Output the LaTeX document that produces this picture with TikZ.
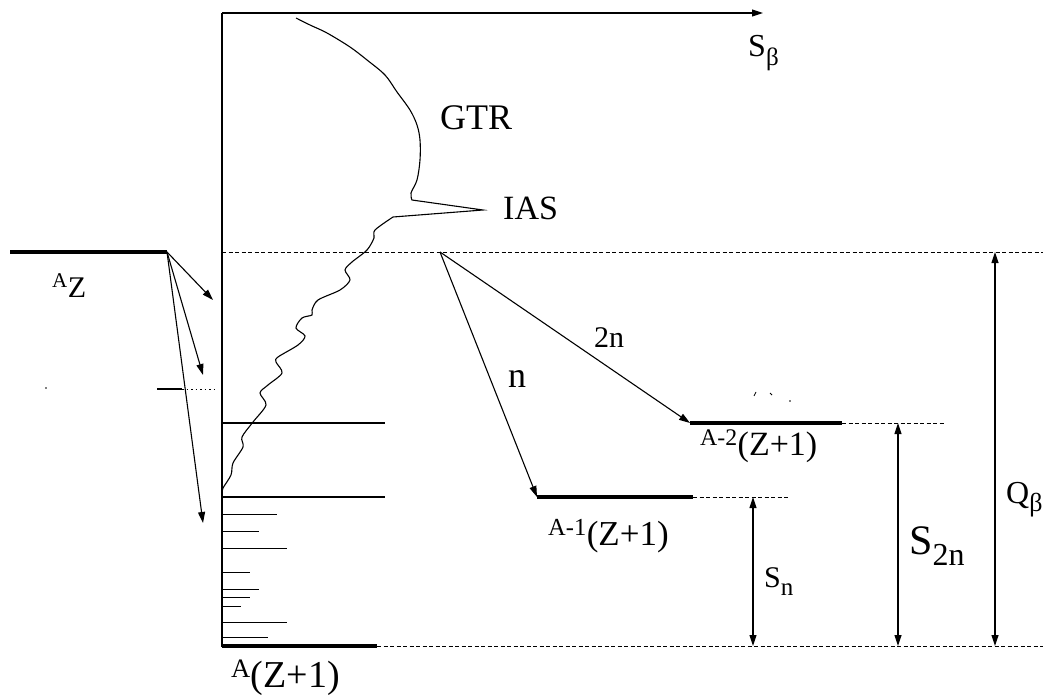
\documentclass[tikz,border=0pt]{standalone}
\usepackage{fontspec}
\setmainfont{Liberation Serif}
\usetikzlibrary{arrows.meta}
\newcommand\lowsub[2]{\raisebox{-0.28em}{\fontsize{#1}{#1}\selectfont #2}}
\tikzset{
  thinln/.style={line width=1.1pt},
  levelln/.style={line width=3.2pt},
  dashln/.style={line width=0.9pt, dash pattern=on 4pt off 2.5pt},
  arr/.style={thinln, -{Triangle[length=11pt,width=7pt]}},
  darr/.style={thinln, {Triangle[length=11pt,width=7pt]}-{Triangle[length=11pt,width=7pt]}},
  lbl/.style={inner sep=0pt, anchor=base west},
  fs/.style={font=\fontsize{#1}{#1}\selectfont}
}
\begin{document}
\begin{tikzpicture}[x=1pt,y=-1pt]
\useasboundingbox (0,0) rectangle (1047,698);

% named points
\coordinate (origin) at (222,647);
\coordinate (axtop) at (222,13);
\coordinate (axtip) at (763,13);
\coordinate (azL) at (10,252);
\coordinate (azR) at (167,252);
\coordinate (a1) at (213,300);
\coordinate (a2) at (203,375);
\coordinate (a3) at (203,523);
\coordinate (ns) at (440,252);
\coordinate (lv1L) at (537,497);
\coordinate (lv1R) at (693,497);
\coordinate (lv1D) at (790,497);
\coordinate (lv2L) at (690,423);
\coordinate (lv2R) at (842,423);
\coordinate (lv2D) at (945,423);
\coordinate (qL) at (222,252);
\coordinate (qR) at (1043,252);
\coordinate (gsR) at (377,646);
\coordinate (gsD) at (1043,646);

% axes
\draw[line width=1.4pt] (origin) -- (axtop);
\draw[arr] (axtop) -- (axtip);

% A Z level and gamma arrows
\draw[levelln] (azL) -- (azR);
\draw[arr] (azR) -- (a1);
\draw[arr] (azR) -- (a2);
\draw[arr] (azR) -- (a3);
\draw[thinln] (157,389) -- (182,389);
\draw[line width=0.8pt, dash pattern=on 1.5pt off 3pt] (182,389) -- (214,389);
\fill (46,388) circle (0.9pt);

% Q-value reference lines
\draw[dashln] (qL) -- (qR);
\draw[levelln] (222,646) -- (gsR);
\draw[dashln] (gsR) -- (gsD);

% levels in the daughter
\draw[thinln] (222,423) -- (385,423);
\draw[thinln] (222,497) -- (385,497);
\foreach \yy/\xx in {514/277, 531/259, 548/287, 572/250, 589/259, 597/250, 606/241, 622/287, 637/268}
  \draw[line width=1pt] (222,\yy) -- (\xx,\yy);

% strength function curve (GTR + IAS)
\draw[line width=1.1pt] plot[smooth, tension=0.55] coordinates {
  (296,18) (310,25) (327,33) (350,47) (367,60) (385,75) (397,92) (410,110)
  (417,125) (420,140) (420,160) (417,180) (411,193) (412,200)}
  -- (483,210) -- (393,217)
  plot[smooth, tension=0.5] coordinates {
  (393,217) (375,230) (374,238) (367,250) (352,262) (345,270) (350,280)
  (340,290) (318,300) (312,310) (312,315) (302,318) (296,328) (305,336)
  (298,345) (278,357) (276,362) (282,373) (268,385) (260,393) (266,405)
  (253,422) (242,437) (243,447) (233,463) (231,475) (223,488) (222,493)};

% neutron emission
\draw[arr] (ns) -- (lv1L);
\draw[arr] (ns) -- (lv2L);
\draw[levelln] (lv1L) -- (lv1R);
\draw[dashln] (lv1R) -- (lv1D);
\draw[levelln] (lv2L) -- (lv2R);
\draw[dashln] (lv2R) -- (lv2D);
\draw[line width=0.8pt] (754,396) -- (756,392);
\draw[line width=0.8pt] (770,393) -- (772,395);
\fill (790,401) circle (0.8pt);

% separation energies
\coordinate (snT) at (753,497);  \coordinate (snB) at (753,646);
\coordinate (s2T) at (898,423);  \coordinate (s2B) at (898,646);
\coordinate (qT) at (995,252);   \coordinate (qB) at (995,646);
\draw[darr] (snT) -- (snB);
\draw[darr] (s2T) -- (s2B);
\draw[darr] (qT) -- (qB);

% labels
\node[lbl, fs=32] (lSb) at (748,57) {S\lowsub{25}{β}};
\node[lbl, fs=36] (lGTR) at (440,130) {GTR};
\node[lbl, fs=34] (lIAS) at (503,219) {IAS};
\node[lbl, fs=30] (lAZ) at (52,297) {\textsuperscript{A}Z};
\node[lbl, fs=38] (lAZ1) at (231,687) {\textsuperscript{A}(Z+1)};
\node[lbl, fs=34] (lA2) at (700,455) {\textsuperscript{A-2}(Z+1)};
\node[lbl, fs=35] (lA1) at (548,545) {\textsuperscript{A-1}(Z+1)};
\node[lbl, fs=30] (l2n) at (594,347) {2n};
\node[lbl, fs=36] (ln) at (508,387) {n};
\node[lbl, fs=30] (lSn) at (764,587) {S\lowsub{25}{n}};
\node[lbl, fs=42] (lS2n) at (909,554) {S\lowsub{32}{2n}};
\node[lbl, fs=32] (lQ) at (1006,503) {Q\lowsub{26}{β}};
\end{tikzpicture}
\end{document}
